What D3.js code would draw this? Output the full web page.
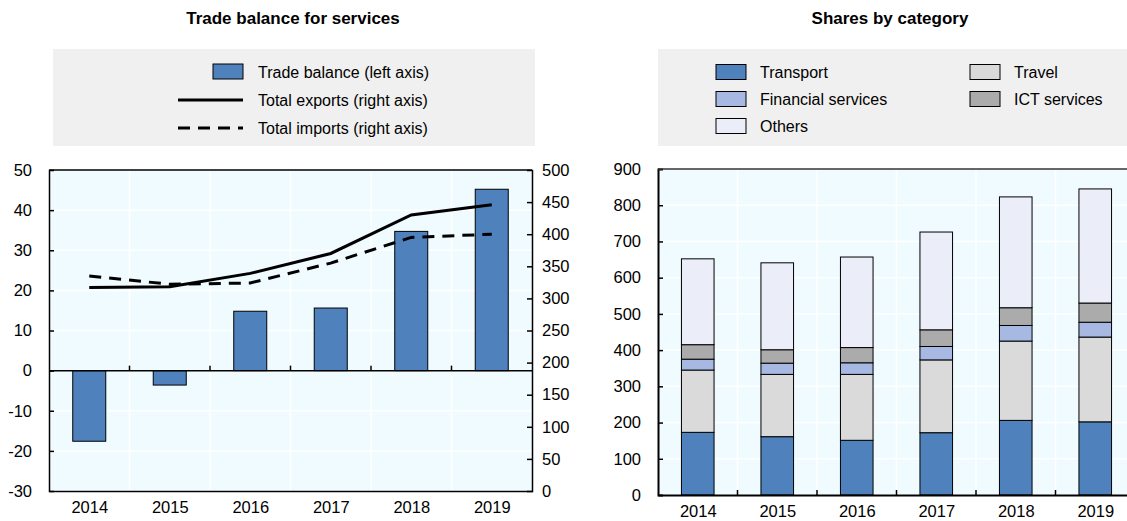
<!DOCTYPE html>
<html>
<head>
<meta charset="utf-8">
<script src="https://cdn.jsdelivr.net/npm/d3@7"></script>
<style>
  body { margin: 0; background: #fff; }
  text { font-family: "Liberation Sans", Arial, sans-serif; fill: #000; }
</style>
</head>
<body>
<svg id="chart" width="1127" height="521"></svg>
<script>
// ---- data ----
const years = ['2014', '2015', '2016', '2017', '2018', '2019']
const tradeBalance = [-17.6, -3.6, 14.8, 15.6, 34.7, 45.2]
const totalExports = [317, 318, 339, 370, 430, 446]
const totalImports = [335, 322, 324, 355, 395, 400]
const leftTicks = [-30, -20, -10, 0, 10, 20, 30, 40, 50]
const rightTicks = [0, 50, 100, 150, 200, 250, 300, 350, 400, 450, 500]

const categories = ['Transport', 'Travel', 'Financial services', 'ICT services', 'Others']
const transport = [173, 161, 151, 172, 206, 202]
const travel = [172, 172, 182, 201, 219, 234]
const financial = [30, 31, 32, 37, 43, 41]
const ict = [40, 37, 42, 46, 49, 53]
const others = [237, 240, 250, 270, 306, 315]
const shareTicks = [0, 100, 200, 300, 400, 500, 600, 700, 800, 900]

const colors = {
  'Transport': '#4f81bd',
  'Travel': '#dadada',
  'Financial services': '#a7b9e3',
  'ICT services': '#ababab',
  'Others': '#ebeef8'
}
const plotBg = '#effbfe'
const legendBg = '#f0f0f0'
const plain = d => String(d)   // keep hyphen-minus like the original

const svg = d3.select('#chart')

// ---- titles ----
svg.append('text').attr('x', 293).attr('y', 24).attr('text-anchor', 'middle')
   .style('font-weight', 'bold').style('font-size', '17px').text('Trade balance for services')
svg.append('text').attr('x', 890).attr('y', 24).attr('text-anchor', 'middle')
   .style('font-weight', 'bold').style('font-size', '17px').text('Shares by category')

// ---- left chart ----
const L = { x0: 49, x1: 532, y0: 170, y1: 491 }
const xL = d3.scaleBand().domain(years).range([L.x0, L.x1]).paddingInner(0.59).paddingOuter(0.295)
const xLc = d3.scalePoint().domain(years).range([L.x0, L.x1]).padding(0.5)
const yL = d3.scaleLinear().domain([-30, 50]).range([L.y1, L.y0])
const yR = d3.scaleLinear().domain([0, 500]).range([L.y1, L.y0])
const step = (L.x1 - L.x0) / years.length

const gl = svg.append('g')
gl.append('rect').attr('x', L.x0).attr('y', L.y0).attr('width', L.x1 - L.x0).attr('height', L.y1 - L.y0).attr('fill', plotBg)

// white grid
gl.selectAll('.hg').data(leftTicks).enter().append('line')
  .attr('x1', L.x0).attr('x2', L.x1).attr('y1', d => yL(d)).attr('y2', d => yL(d))
  .attr('stroke', '#fff').attr('stroke-width', 1.5)
gl.selectAll('.vg').data(years.slice(1)).enter().append('line')
  .attr('x1', d => xLc(d) - step / 2).attr('x2', d => xLc(d) - step / 2)
  .attr('y1', L.y0).attr('y2', L.y1).attr('stroke', '#fff').attr('stroke-width', 1.5)

// bars
gl.selectAll('rect.bar').data(tradeBalance).enter().append('rect')
  .attr('class', 'bar')
  .attr('x', (d, i) => xL(years[i]))
  .attr('width', xL.bandwidth())
  .attr('y', d => yL(Math.max(0, d)))
  .attr('height', d => Math.abs(yL(d) - yL(0)))
  .attr('fill', colors['Transport']).attr('stroke', '#000').attr('stroke-width', 1)

// lines
const lineR = d3.line().x((d, i) => xLc(years[i])).y(d => yR(d))
gl.append('path').datum(totalImports).attr('d', lineR)
  .attr('fill', 'none').attr('stroke', '#000').attr('stroke-width', 3).attr('stroke-dasharray', '12,8')
gl.append('path').datum(totalExports).attr('d', lineR)
  .attr('fill', 'none').attr('stroke', '#000').attr('stroke-width', 3)

// zero line with ticks
gl.append('line').attr('x1', L.x0).attr('x2', L.x1).attr('y1', yL(0)).attr('y2', yL(0)).attr('stroke', '#000').attr('stroke-width', 1.5)
gl.selectAll('.zt').data(years.slice(1)).enter().append('line')
  .attr('x1', d => xLc(d) - step / 2).attr('x2', d => xLc(d) - step / 2)
  .attr('y1', yL(0)).attr('y2', yL(0) - 5).attr('stroke', '#000').attr('stroke-width', 1.5)

// axes
const axL = gl.append('g').attr('transform', `translate(${L.x0},0)`)
  .call(d3.axisLeft(yL).tickValues(leftTicks).tickFormat(plain).tickSize(-5).tickPadding(17))
const axR = gl.append('g').attr('transform', `translate(${L.x1},0)`)
  .call(d3.axisRight(yR).tickValues(rightTicks).tickFormat(plain).tickSize(-5).tickPadding(10))
const axB = gl.append('g').attr('transform', `translate(0,${L.y1})`)
  .call(d3.axisBottom(xLc).tickSize(0).tickPadding(10))
gl.append('line').attr('x1', L.x0).attr('x2', L.x1).attr('y1', L.y0).attr('y2', L.y0).attr('stroke', '#000').attr('stroke-width', 1.5)
;[axL, axR, axB].forEach(a => {
  a.select('.domain').attr('stroke', '#000').attr('stroke-width', 1.5)
  a.selectAll('.tick line').attr('stroke', '#000').attr('stroke-width', 1.5)
  a.selectAll('text').style('font-size', '16.5px').attr('fill', '#000')
})
axL.selectAll('.tick').filter(d => d === -30 || d === 50).select('line').remove()
axR.selectAll('.tick').filter(d => d === 0 || d === 500).select('line').remove()

// left legend
const lg = svg.append('g')
lg.append('rect').attr('x', 53).attr('y', 49).attr('width', 482).attr('height', 97).attr('fill', legendBg)
lg.append('rect').attr('x', 213).attr('y', 64).attr('width', 30).attr('height', 15)
  .attr('fill', colors['Transport']).attr('stroke', '#000').attr('stroke-width', 1)
lg.append('line').attr('x1', 178).attr('x2', 243).attr('y1', 100).attr('y2', 100).attr('stroke', '#000').attr('stroke-width', 3)
lg.append('line').attr('x1', 178).attr('x2', 243).attr('y1', 128).attr('y2', 128).attr('stroke', '#000').attr('stroke-width', 3).attr('stroke-dasharray', '12,8')
const leftLegendText = ['Trade balance (left axis)', 'Total exports (right axis)', 'Total imports (right axis)']
lg.selectAll('text').data(leftLegendText).enter().append('text')
  .attr('x', 258).attr('y', (d, i) => 72 + i * 28).attr('dy', '0.35em')
  .style('font-size', '16px').text(d => d)

// ---- right chart ----
const R = { x0: 658, x1: 1135, y0: 169, y1: 495 }
const xS = d3.scaleBand().domain(years).range([R.x0, R.x1]).paddingInner(0.59).paddingOuter(0.295)
const xSc = d3.scalePoint().domain(years).range([R.x0, R.x1]).padding(0.5)
const yS = d3.scaleLinear().domain([0, 900]).range([R.y1, R.y0])
const stepS = (R.x1 - R.x0) / years.length

const gr = svg.append('g')
gr.append('rect').attr('x', R.x0).attr('y', R.y0).attr('width', R.x1 - R.x0).attr('height', R.y1 - R.y0).attr('fill', plotBg)
gr.selectAll('.hg').data(shareTicks).enter().append('line')
  .attr('x1', R.x0).attr('x2', R.x1).attr('y1', d => yS(d)).attr('y2', d => yS(d))
  .attr('stroke', '#fff').attr('stroke-width', 1.5)
gr.selectAll('.vg').data(years.slice(1)).enter().append('line')
  .attr('x1', d => xSc(d) - stepS / 2).attr('x2', d => xSc(d) - stepS / 2)
  .attr('y1', R.y0).attr('y2', R.y1).attr('stroke', '#fff').attr('stroke-width', 1.5)

const series = [transport, travel, financial, ict, others]
const table = years.map((y, i) => {
  const row = { year: y }
  categories.forEach((c, k) => { row[c] = series[k][i] })
  return row
})
const stacked = d3.stack().keys(categories)(table)
gr.selectAll('g.layer').data(stacked).enter().append('g').attr('class', 'layer')
  .attr('fill', d => colors[d.key])
  .selectAll('rect').data(d => d).enter().append('rect')
  .attr('x', d => xS(d.data.year)).attr('width', xS.bandwidth())
  .attr('y', d => yS(d[1])).attr('height', d => yS(d[0]) - yS(d[1]))
  .attr('stroke', '#000').attr('stroke-width', 1)

const axS = gr.append('g').attr('transform', `translate(${R.x0},0)`)
  .call(d3.axisLeft(yS).tickValues(shareTicks).tickFormat(plain).tickSize(-5).tickPadding(17))
const axSB = gr.append('g').attr('transform', `translate(0,${R.y1})`)
  .call(d3.axisBottom(xSc).tickSize(0).tickPadding(10))
gr.selectAll('.bt').data(years.slice(1)).enter().append('line')
  .attr('x1', d => xSc(d) - stepS / 2).attr('x2', d => xSc(d) - stepS / 2)
  .attr('y1', R.y1).attr('y2', R.y1 - 5).attr('stroke', '#000').attr('stroke-width', 1.5)
gr.append('line').attr('x1', R.x0).attr('x2', R.x1).attr('y1', R.y0).attr('y2', R.y0).attr('stroke', '#333').attr('stroke-width', 1.5)
;[axS, axSB].forEach(a => {
  a.select('.domain').attr('stroke', '#000').attr('stroke-width', 2)
  a.selectAll('.tick line').attr('stroke', '#000').attr('stroke-width', 1.5)
  a.selectAll('text').style('font-size', '16.5px').attr('fill', '#000')
})
axS.selectAll('.tick').filter(d => d === 0 || d === 900).select('line').remove()

// right legend
const rg = svg.append('g')
rg.append('rect').attr('x', 658).attr('y', 49).attr('width', 469).attr('height', 97).attr('fill', legendBg)
const legendPos = [
  { key: 'Transport', x: 716, y: 72 },
  { key: 'Travel', x: 970, y: 72 },
  { key: 'Financial services', x: 716, y: 99 },
  { key: 'ICT services', x: 970, y: 99 },
  { key: 'Others', x: 716, y: 126 }
]
const items = rg.selectAll('g.item').data(legendPos).enter().append('g').attr('class', 'item')
items.append('rect').attr('x', d => d.x).attr('y', d => d.y - 7.5).attr('width', 30).attr('height', 15)
  .attr('fill', d => colors[d.key]).attr('stroke', '#000').attr('stroke-width', 1)
items.append('text').attr('x', d => d.x + 44).attr('y', d => d.y).attr('dy', '0.35em')
  .style('font-size', '16px').text(d => d.key)
</script>
</body>
</html>
